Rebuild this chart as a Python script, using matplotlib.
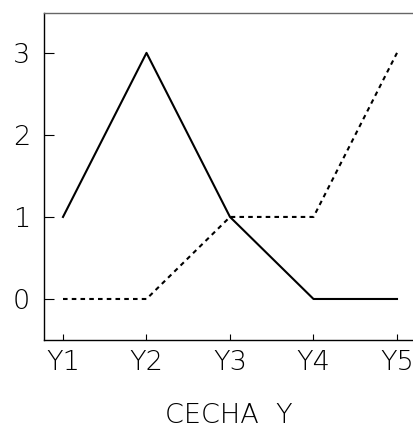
import matplotlib
matplotlib.use("Agg")
import matplotlib.pyplot as plt

categories = ["Y1", "Y2", "Y3", "Y4", "Y5"]
series_solid = [1, 3, 1, 0, 0]
series_dashed = [0, 0, 1, 1, 3]
y_ticks = [0, 1, 2, 3]

plt.rcParams["font.family"] = ["DejaVu Sans"]

fig = plt.figure(figsize=(4.14, 4.32), dpi=100)
ax = fig.add_axes([44 / 414, 1 - 340 / 432, 1 - 44 / 414, (340 - 13) / 432])

x = list(range(1, len(categories) + 1))
ax.plot(x, series_solid, color="black", linewidth=1.5)
ax.plot(x, series_dashed, color="black", linewidth=1.5, linestyle=(0, (2.2, 2.0)))

ax.set_xlim(1 - 19 / 83.5, 5 + 17 / 83.5)
ax.set_ylim(-0.5, 3 + 40 / 82.3)
ax.set_xticks(x, categories)
ax.set_yticks(y_ticks)

ax.spines["right"].set_visible(False)
ax.spines["top"].set_color("#666666")
for side in ("left", "bottom", "top"):
    ax.spines[side].set_linewidth(1.0)
ax.tick_params(axis="x", direction="in", length=4, width=0.8, labelsize=19.5, pad=7)
ax.tick_params(axis="y", direction="in", length=7, width=0.8, labelsize=19.5, pad=10)
for label in ax.get_xticklabels() + ax.get_yticklabels():
    label.set_fontweight(200)

ax.set_xlabel("CECHA  Y", fontsize=19.5, fontweight=200, labelpad=20)

fig.savefig("out.png", dpi=100)
